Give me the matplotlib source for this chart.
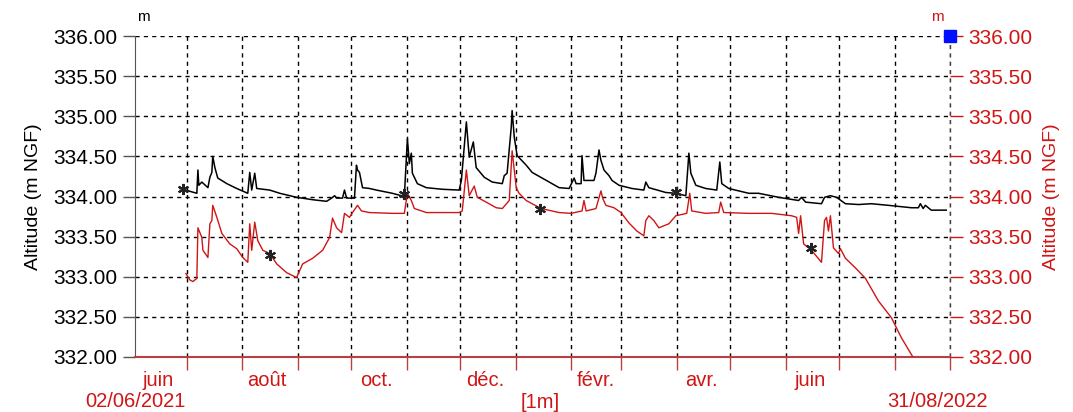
import pandas as pd
import matplotlib
matplotlib.use("Agg")
import matplotlib.pyplot as plt
from matplotlib.ticker import FormatStrFormatter, MultipleLocator

plt.rcParams['font.family'] = ['Liberation Sans', 'DejaVu Sans']

# days since 02/06/2021 and altitude (m NGF)
start = pd.Timestamp("2021-06-02")
end = pd.Timestamp("2022-09-01")

black_days = [25.1, 34.6, 35.2, 35.7, 37.4, 40.8, 41.9, 43.0, 43.5, 44.7, 46.3, 51.4, 56.9, 63.1, 64.2,
              65.3, 67.0, 68.1, 75.4, 81.0, 90.4, 99.4, 107.2, 110.0, 111.7, 112.8, 116.1, 117.2, 118.4,
              122.8, 123.9, 124.5, 125.6, 127.3, 131.2, 135.1, 144.0, 150.7, 152.4, 153.5, 154.6, 155.2,
              158.0, 163.0, 172.0, 181.4, 182.6, 185.4, 187.0, 189.3, 190.9, 195.4, 199.9, 205.5, 206.6,
              208.2, 210.5, 211.0, 212.2, 213.8, 218.9, 222.2, 227.8, 237.3, 242.9, 245.7, 246.8, 249.6,
              250.1, 251.2, 256.8, 257.9, 259.6, 260.7, 262.4, 265.2, 266.9, 270.8, 278.0, 284.7, 285.8,
              287.5, 297.0, 302.6, 308.2, 309.9, 311.0, 313.8, 319.3, 325.5, 327.2, 328.3, 332.2, 343.4,
              348.9, 360.1, 371.3, 372.9, 375.2, 384.1, 385.8, 389.1, 392.5, 397.5, 404.8, 412.0, 421.5,
              434.4, 438.3, 439.4, 441.0, 442.2, 445.5, 453.9]
black_vals = [334.10, 334.04, 334.33, 334.14, 334.18, 334.11, 334.24, 334.30, 334.50, 334.36, 334.23,
              334.16, 334.10, 334.04, 334.30, 334.08, 334.29, 334.10, 334.08, 334.04, 333.99, 333.96,
              333.94, 333.98, 334.01, 333.98, 333.98, 334.08, 333.98, 333.98, 334.39, 334.33, 334.30,
              334.11, 334.10, 334.08, 334.04, 334.00, 334.72, 334.41, 334.54, 334.29, 334.16, 334.11,
              334.09, 334.08, 334.20, 334.93, 334.49, 334.68, 334.36, 334.24, 334.18, 334.16, 334.26,
              334.29, 334.86, 335.07, 334.74, 334.51, 334.39, 334.30, 334.23, 334.11, 334.10, 334.23,
              334.16, 334.16, 334.51, 334.20, 334.20, 334.29, 334.58, 334.45, 334.33, 334.26, 334.20,
              334.14, 334.10, 334.08, 334.18, 334.11, 334.05, 334.04, 334.01, 334.54, 334.29, 334.14,
              334.10, 334.08, 334.43, 334.16, 334.10, 334.04, 334.04, 333.99, 333.95, 333.99, 333.93,
              333.91, 333.99, 334.01, 333.99, 333.91, 333.90, 333.91, 333.89, 333.86, 333.86, 333.91,
              333.85, 333.89, 333.83, 333.83]

red_days = [28.5, 30.7, 32.4, 34.6, 35.2, 37.4, 38.0, 40.8, 41.9, 43.0, 43.5, 45.8, 48.6, 53.0, 56.9,
            60.3, 63.1, 64.2, 65.3, 67.0, 68.7, 71.5, 75.4, 79.3, 84.9, 90.4, 93.8, 99.4, 105.0, 108.9,
            110.5, 112.8, 115.6, 117.2, 120.0, 121.7, 124.5, 126.7, 131.2, 144.0, 150.7, 152.4, 154.6,
            156.3, 163.0, 181.4, 183.1, 185.4, 187.0, 189.8, 191.5, 196.5, 202.1, 205.5, 209.4, 211.0,
            213.3, 214.9, 218.9, 222.2, 227.2, 237.3, 244.0, 250.1, 251.2, 252.4, 257.9, 260.7, 261.8,
            263.5, 268.0, 271.9, 276.4, 280.8, 284.7, 285.8, 287.5, 290.3, 293.1, 298.7, 302.6, 308.7,
            310.4, 311.5, 319.3, 326.6, 327.7, 329.4, 343.4, 356.2, 367.4, 370.2, 371.3, 372.4, 374.1,
            378.5, 384.1, 385.8, 386.9, 388.0, 389.1, 390.8, 393.6, 394.7, 397.5, 403.1, 408.7, 415.9,
            423.2, 428.8, 435.5]
red_vals = [333.04, 332.96, 332.94, 332.98, 333.61, 333.49, 333.33, 333.24, 333.66, 333.70, 333.89,
            333.74, 333.54, 333.41, 333.35, 333.24, 333.18, 333.66, 333.33, 333.68, 333.45, 333.33,
            333.29, 333.16, 333.05, 332.99, 333.16, 333.23, 333.33, 333.49, 333.73, 333.61, 333.55,
            333.79, 333.74, 333.80, 333.89, 333.82, 333.80, 333.79, 333.79, 334.04, 333.95, 333.85,
            333.80, 333.80, 333.82, 334.33, 334.01, 334.13, 333.99, 333.93, 333.86, 333.85, 333.95,
            334.57, 334.11, 334.04, 333.95, 333.91, 333.85, 333.80, 333.79, 333.82, 333.95, 333.82,
            333.85, 334.07, 333.97, 333.89, 333.86, 333.80, 333.67, 333.57, 333.51, 333.70, 333.76,
            333.70, 333.61, 333.66, 333.76, 333.79, 334.04, 333.82, 333.79, 333.80, 333.93, 333.80,
            333.79, 333.79, 333.76, 333.74, 333.54, 333.76, 333.41, 333.33, 333.18, 333.70, 333.74,
            333.57, 333.76, 333.36, 333.29, 333.35, 333.23, 333.11, 332.98, 332.70, 332.49, 332.24,
            331.99]

# manual measurements (asterisks)
mark_days = [26.8, 150.7, 302.6, 75.4, 226.7, 378.5]
mark_vals = [334.09, 334.03, 334.06, 333.27, 333.85, 333.36]

month_labels = ["juin", "août", "oct.", "déc.", "févr.", "avr.", "juin"]
label_months = ["2021-06-15", "2021-08-15", "2021-10-15", "2021-12-15",
                "2022-02-15", "2022-04-15", "2022-06-15"]

red = "#d01515"

def to_dates(days):
    return start + pd.to_timedelta(days, unit="D")

fig = plt.figure(figsize=(10.73, 4.12), dpi=100)
ax = fig.add_axes([135 / 1073, 1 - 357 / 412, 815 / 1073, 321 / 412])
ax2 = ax.twinx()

ax.plot(to_dates(black_days), black_vals, color="black", lw=1.1, zorder=3)
ax2.plot(to_dates(red_days), red_vals, color=red, lw=1.0, zorder=3)
ax2.plot(to_dates(mark_days), mark_vals, ls="none", marker=(6, 2, 0), ms=8,
         mec="#222222", mew=1.5, zorder=4)
ax2.plot([end], [336.0], ls="none", marker="s", ms=8, color="#0010ff", clip_on=False, zorder=5)

for a in (ax, ax2):
    a.set_xlim(start, end)
    a.set_ylim(332, 336)
    a.yaxis.set_major_locator(MultipleLocator(0.5))
    a.yaxis.set_major_formatter(FormatStrFormatter("%.2f"))
    for s in ("top", "right", "left", "bottom"):
        a.spines[s].set_visible(False)

ax.spines["left"].set_visible(True)
ax.spines["left"].set_color("#555555")
ax.spines["bottom"].set_visible(True)
ax.spines["bottom"].set_color("#b84040")
ax.spines["bottom"].set_linewidth(1.5)

month_starts = pd.date_range("2021-07-01", "2022-09-01", freq="MS")
ax.set_xticks(month_starts)
ax.set_xticklabels([])
ax.set_xticks(pd.to_datetime(label_months), minor=True)
ax.set_xticklabels(month_labels, minor=True)
ax.tick_params(axis="x", which="major", colors="#b84040", length=9, width=1)
ax.tick_params(axis="x", which="minor", length=0, labelcolor=red, labelsize=14.5, pad=10)
ax2.tick_params(axis="x", which="both", length=0, labelbottom=False)

ax.tick_params(axis="y", colors="#555555", labelcolor="black", labelsize=15, length=9, width=1, pad=4)
ax2.tick_params(axis="y", colors=red, labelcolor=red, labelsize=15, length=9, width=1, pad=4)

ax.grid(True, which="major", color="black", ls=(0, (3, 3)), lw=1)
ax.set_axisbelow(True)
# dashed line closing the right edge
ax.axvline(end, color="#444444", ls=(0, (3, 3)), lw=1, clip_on=False)

ax.set_ylabel("Altitude (m NGF)", fontsize=14, labelpad=8)
ax2.set_ylabel("Altitude (m NGF)", fontsize=14, color=red, rotation=90, labelpad=8)

ax.text(0.0, -0.14, "02/06/2021", transform=ax.transAxes, ha="center", va="center",
        color=red, fontsize=14.5)
ax.text(0.985, -0.14, "31/08/2022", transform=ax.transAxes, ha="center", va="center",
        color=red, fontsize=14.5)
ax.text(0.497, -0.143, "[1m]", transform=ax.transAxes, ha="center", va="center",
        color=red, fontsize=14.5)
ax.text(0.01, 1.06, "m", transform=ax.transAxes, ha="center", va="center",
        color="black", fontsize=11)
ax.text(0.985, 1.06, "m", transform=ax.transAxes, ha="center", va="center",
        color=red, fontsize=11)

fig.savefig("out.png", dpi=100)
